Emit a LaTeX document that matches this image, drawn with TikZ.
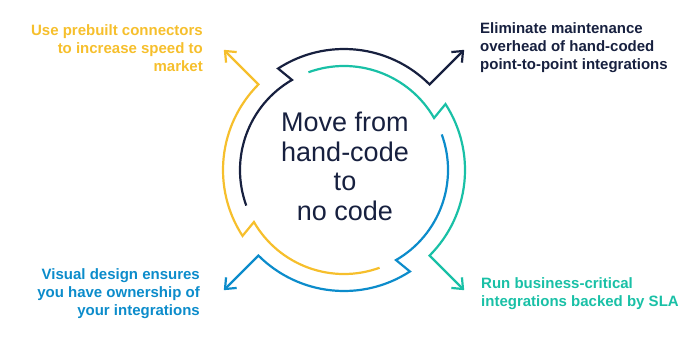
\documentclass[tikz,border=0pt]{standalone}
\usepackage{fontspec}
\setmainfont{Liberation Sans}
\usetikzlibrary{arrows.meta}
\definecolor{cnavy}{HTML}{17203F}
\definecolor{cyellow}{HTML}{F6BF2C}
\definecolor{cteal}{HTML}{19C0A6}
\definecolor{cblue}{HTML}{0C8CCB}
\begin{document}
\begin{tikzpicture}[x=1pt,y=1pt,
  ring/.style={line width=2.2pt, line join=miter},
  tipend/.style={-{Straight Barb[length=9pt,width=15pt]}},
  lbl/.style={font=\bfseries\fontsize{15}{18}\selectfont, inner sep=0pt},
]
\useasboundingbox (0,0) rectangle (700,341);
\node[font=\fontsize{27}{29.4}\selectfont, align=center, text=cnavy, inner sep=0pt, anchor=base] (centre) at (345,121) {Move from\\hand-code\\to\\no code};
\begin{scope}[shift={(344,171)}]
  \coordinate (navyend) at (45:170);
  \coordinate (tealend) at (-45:170);
  \coordinate (blueend) at (-135:170);
  \coordinate (yellowend) at (135:170);
  \draw[ring, cnavy, tipend] (200:104) arc[start angle=200, end angle=120, radius=104]
    -- (123:121) arc[start angle=123, end angle=45, radius=121] -- (navyend);
  \draw[ring, cteal, tipend] (110:104) arc[start angle=110, end angle=30, radius=104]
    -- (33:121) arc[start angle=33, end angle=-45, radius=121] -- (tealend);
  \draw[ring, cblue, tipend] (20:104) arc[start angle=20, end angle=-60, radius=104]
    -- (-57:121) arc[start angle=-57, end angle=-135, radius=121] -- (blueend);
  \draw[ring, cyellow, tipend] (-70:104) arc[start angle=-70, end angle=-150, radius=104]
    -- (-147:121) arc[start angle=-147, end angle=-225, radius=121] -- (yellowend);
\end{scope}
\node[lbl, text=cyellow, align=right, anchor=base east] (yl) at (203,269.5) {Use prebuilt connectors\\to increase speed to\\market};
\node[lbl, text=cnavy, align=left, anchor=base west] (nl) at (480,272) {Eliminate maintenance\\overhead of hand-coded\\point-to-point integrations};
\node[lbl, text=cblue, align=right, anchor=base east] (bl) at (200,26) {Visual design ensures\\you have ownership of\\your integrations};
\node[lbl, text=cteal, align=left, anchor=base west] (tl) at (481,34.5) {Run business-critical\\integrations backed by SLA};
\end{tikzpicture}
\end{document}
